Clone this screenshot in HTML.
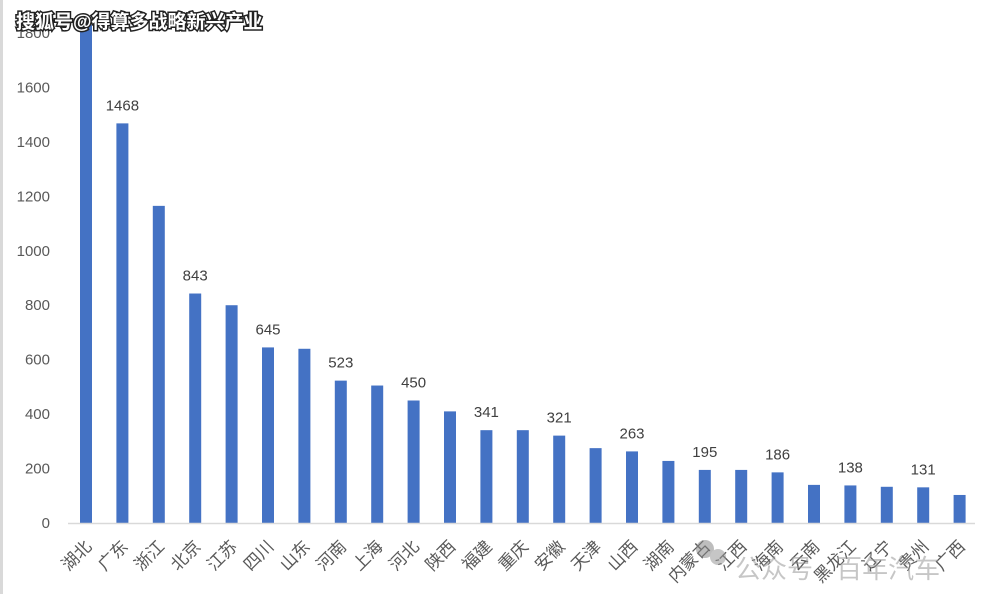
<!DOCTYPE html>
<html><head><meta charset="utf-8"><style>
html,body{margin:0;padding:0;background:#fff;width:990px;height:594px;overflow:hidden}
svg text{font-family:"Liberation Sans","Noto Sans CJK SC",sans-serif}
</style></head><body>
<svg id="chart" width="990" height="594" xmlns="http://www.w3.org/2000/svg">
<rect x="0" y="0" width="3" height="594" fill="#d9d9d9"/>
<g id="yaxis"></g>
<g id="bars"></g>
<line x1="68" y1="523.5" x2="975" y2="523.5" stroke="#d9d9d9" stroke-width="1.5"/>
<g id="xlabels"></g>
<g id="vlabels"></g>
<text x="16" y="28" font-size="19" font-weight="bold" fill="#fff" stroke="#222" stroke-width="3" paint-order="stroke">搜狐号@得算多战略新兴产业</text>
<g opacity="0.55">
<circle cx="705" cy="549" r="9" fill="#888"/><circle cx="718" cy="557" r="8" fill="#999"/>
<text x="735" y="578" font-size="26" fill="#999">公众号 · 百年汽车</text>
</g>
</svg>
<script>
const categories=["湖北","广东","浙江","北京","江苏","四川","山东","河南","上海","河北","陕西","福建","重庆","安徽","天津","山西","湖南","内蒙古","江西","海南","云南","黑龙江","辽宁","贵州","广西"];
const values=[1830,1468,1165,843,800,645,640,523,505,450,410,341,341,321,275,263,228,195,195,186,140,138,133,131,103];
const labeled=[0,1,0,1,0,1,0,1,0,1,0,1,0,1,0,1,0,1,0,1,0,1,0,1,0];
const yTicks=[0,200,400,600,800,1000,1200,1400,1600,1800];
const NS="http://www.w3.org/2000/svg";
const y0=523,pxPer=(523-33)/1800;
function yScale(v){return y0-v*pxPer;}
function xScale(i){return 86+i*36.4;}
const ya=document.getElementById('yaxis'),bg=document.getElementById('bars'),xl=document.getElementById('xlabels'),vl=document.getElementById('vlabels');
function mk(t,a){const e=document.createElementNS(NS,t);for(const k in a)e.setAttribute(k,a[k]);return e;}
yTicks.forEach(v=>{
 const t=mk('text',{x:50,y:yScale(v)+5,'text-anchor':'end','font-size':15,fill:'#595959'});
 
 
 t.textContent=v;ya.appendChild(t);
});
categories.forEach((c,i)=>{
 const x=xScale(i),top=Math.max(yScale(values[i]),0);
 const r=mk('rect',{x:x-6,y:top,width:12,height:y0-top,fill:'#4472c4'});
 
 
 bg.appendChild(r);
 const ax=x-3,ay=538;
 const t=mk('text',{x:ax,y:ay,'text-anchor':'end','font-size':17,fill:'#595959',transform:`rotate(-45 ${ax} ${ay})`,dy:'0.8em'});
 
 
 t.textContent=c;xl.appendChild(t);
 if(labeled[i]){
  const l=mk('text',{x:x,y:top-13,'text-anchor':'middle','font-size':15,fill:'#404040'});
  
  
  l.textContent=values[i];vl.appendChild(l);
 }
});
</script>
</body></html>
